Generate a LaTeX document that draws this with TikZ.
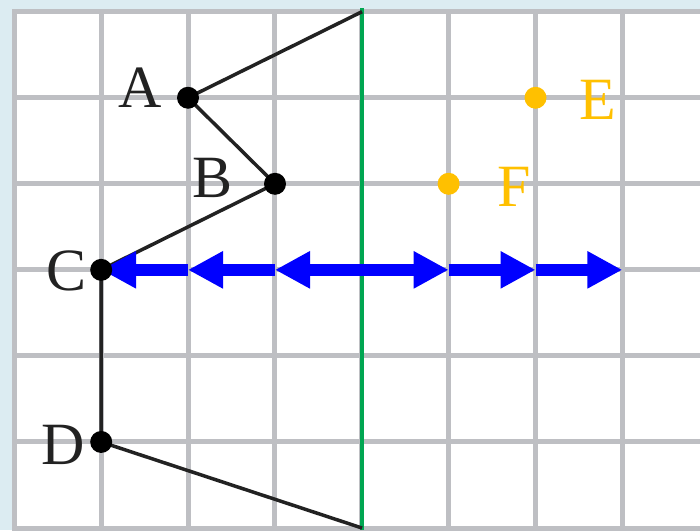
\documentclass[tikz,border=0pt]{standalone}
\usepackage{fontspec}
\setmainfont{Liberation Serif}
\usetikzlibrary{arrows.meta}
\definecolor{bgblue}{RGB}{220,236,242}
\definecolor{gridgray}{RGB}{190,191,195}
\definecolor{mygreen}{RGB}{0,166,81}
\definecolor{gold}{RGB}{255,192,0}
\definecolor{ink}{RGB}{34,34,34}
\tikzset{
  gridline/.style={draw=gridgray, line width=5pt},
  axisline/.style={draw=mygreen, line width=4pt},
  polyline/.style={draw=ink, line width=3.5pt, line join=round},
  blackdot/.style={circle, fill=black, inner sep=0pt, minimum size=22pt},
  golddot/.style={circle, fill=gold, inner sep=0pt, minimum size=22pt},
  inklabel/.style={inner sep=0pt, text=ink, font=\fontsize{60}{60}\selectfont},
  goldlabel/.style={inner sep=0pt, text=gold, font=\fontsize{60}{60}\selectfont},
  barrow/.style={draw=blue, line width=12pt, -{Triangle[length=35pt,width=35pt]}}
}
\begin{document}
\begin{tikzpicture}[x=1pt,y=-1pt]
\useasboundingbox (0,0) rectangle (700,530);
\fill[bgblue] (0,0) rectangle (700,530);
\fill[white] (12,9) rectangle (700,530);
\foreach \i in {0,...,7} \draw[gridline] ({14.3+86.86*\i},9) -- ({14.3+86.86*\i},530);
\foreach \j in {0,...,6} \draw[gridline] (12,{11.7+86.05*\j}) -- (700,{11.7+86.05*\j});
% green axis
\coordinate (gtop) at (362,8);
\coordinate (gbot) at (362,530);
\draw[axisline] (gtop) -- (gbot);
% points
\coordinate (pT) at (362,11.7);
\coordinate (pA) at (188,97.75);
\coordinate (pB) at (275,183.8);
\coordinate (pC) at (101.2,269.85);
\coordinate (pD) at (101.2,441.95);
\coordinate (pU) at (362,528);
\coordinate (pE) at (535.5,97.75);
\coordinate (pF) at (448.6,183.8);
\coordinate (r2) at (188,269.85);
\coordinate (r3) at (275,269.85);
\coordinate (r4) at (362,269.85);
\coordinate (r5) at (448.6,269.85);
\coordinate (r6) at (535.5,269.85);
\coordinate (r7) at (622.3,269.85);
\draw[polyline] (pT) -- (pA) -- (pB) -- (pC) -- (pD) -- (pU);
% blue arrows
\draw[barrow] (r2) -- (pC);
\draw[barrow] (r3) -- (r2);
\draw[barrow] (r4) -- (r3);
\draw[barrow] (r4) -- (r5);
\draw[barrow] (r5) -- (r6);
\draw[barrow] (r6) -- (r7);
% dots
\node[blackdot] (A) at (pA) {};
\node[blackdot] (B) at (pB) {};
\node[blackdot] (C) at (pC) {};
\node[blackdot] (D) at (pD) {};
\node[golddot] (E) at (pE) {};
\node[golddot] (F) at (pF) {};
% labels
\node[inklabel] (lA) at (140,88) {A};
\node[inklabel] (lB) at (213,178) {B};
\node[inklabel] (lC) at (67,271) {C};
\node[inklabel] (lD) at (63,445) {D};
\node[goldlabel] (lE) at (598,100) {E};
\node[goldlabel] (lF) at (514,187) {F};
\end{tikzpicture}
\end{document}
